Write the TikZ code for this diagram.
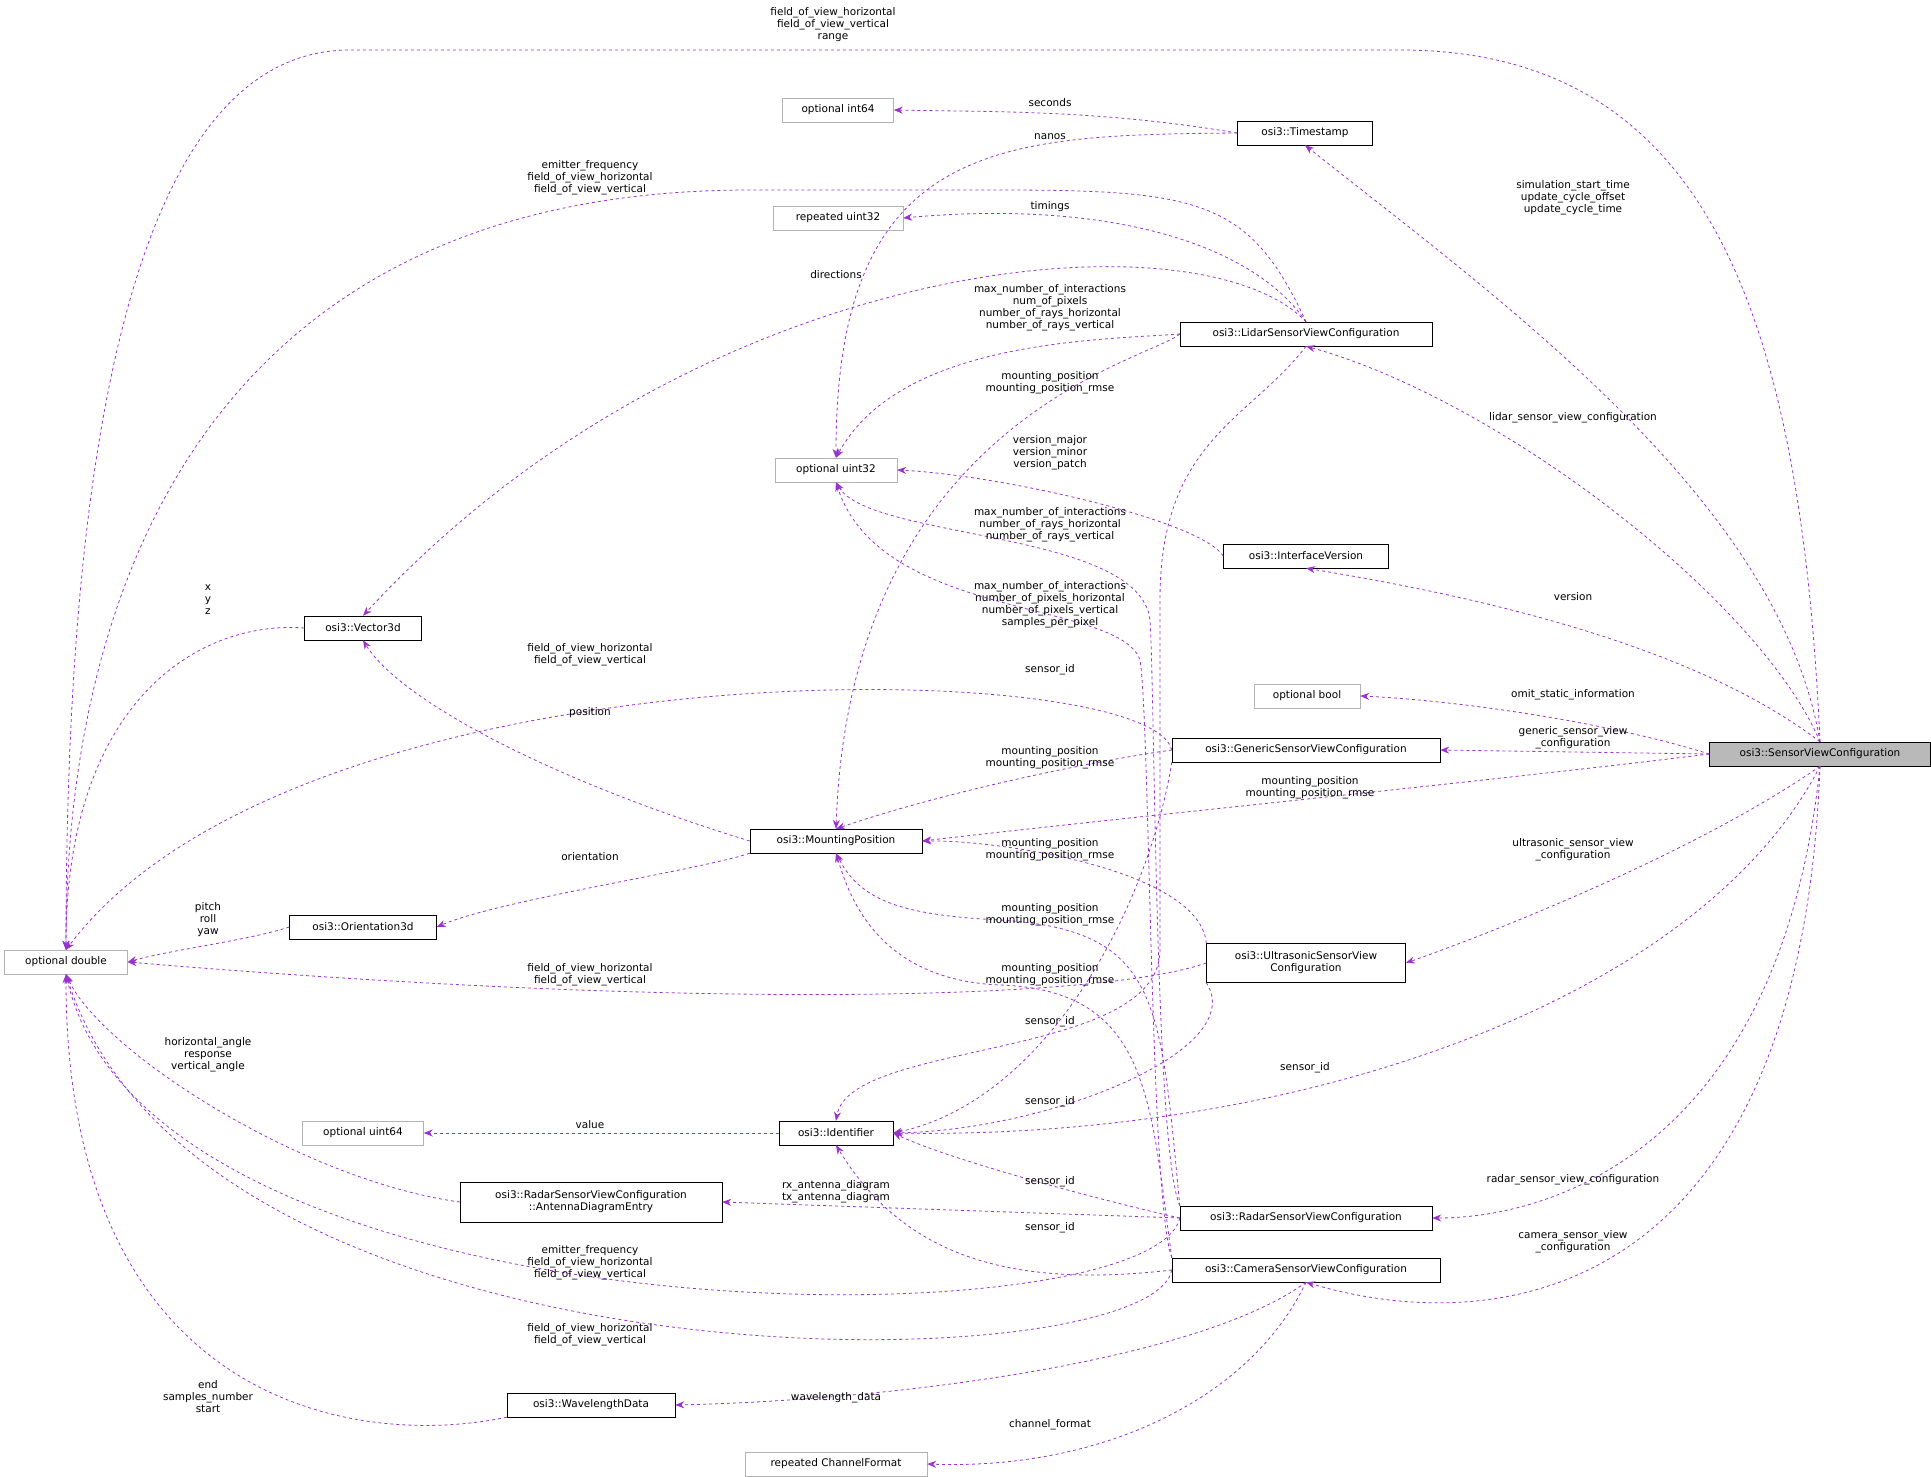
\documentclass[tikz,border=0pt]{standalone}
\usepackage{fontspec}
\setmainfont{DejaVu Sans}
\usetikzlibrary{arrows.meta}
\definecolor{dorchid}{HTML}{9A32CD}
\tikzset{
  cls/.style={draw=black,fill=white,inner sep=2pt,minimum height=24pt,align=center,font=\fontsize{10.5}{12}\selectfont},
  ext/.style={cls,draw=gray!60},
  dep/.style={draw=dorchid,dashed,thick,-{Stealth[length=9pt,width=7pt]}},
  lbl/.style={align=center,font=\fontsize{10.5}{12}\selectfont,inner sep=0pt}
}
\begin{document}
\begin{tikzpicture}[x=1pt,y=-1pt]
    \useasboundingbox (0,0) rectangle (1931,1476);
    % classes
    \node[ext,minimum width=123] (dbl) at (66,962) {optional double};
    \node[ext,minimum width=111] (i64) at (838,110) {optional int64};
    \node[cls,minimum width=135] (ts) at (1305,133) {osi3::Timestamp};
    \node[ext,minimum width=130] (r32) at (838,218) {repeated uint32};
    \node[cls,minimum width=252] (lidar) at (1306,334) {osi3::LidarSensorViewConfiguration};
    \node[ext,minimum width=122] (u32) at (836,470) {optional uint32};
    \node[cls,minimum width=165] (iv) at (1306,556) {osi3::InterfaceVersion};
    \node[cls,minimum width=117] (vec) at (363,628) {osi3::Vector3d};
    \node[ext,minimum width=106] (bool) at (1307,696) {optional bool};
    \node[cls,minimum width=268] (gen) at (1306,750) {osi3::GenericSensorViewConfiguration};
    \node[cls,minimum width=221,fill=gray!55] (svc) at (1820,754) {osi3::SensorViewConfiguration};
    \node[cls,minimum width=172] (mp) at (836,841) {osi3::MountingPosition};
    \node[cls,minimum width=147] (ori) at (363,927) {osi3::Orientation3d};
    \node[cls,minimum width=199,minimum height=39] (us) at (1306,963) {osi3::UltrasonicSensorView\\Configuration};
    \node[ext,minimum width=121] (u64) at (363,1133) {optional uint64};
    \node[cls,minimum width=114] (id) at (836,1133) {osi3::Identifier};
    \node[cls,minimum width=262,minimum height=40] (ade) at (591,1202) {osi3::RadarSensorViewConfiguration\\::AntennaDiagramEntry};
    \node[cls,minimum width=252] (radar) at (1306,1218) {osi3::RadarSensorViewConfiguration};
    \node[cls,minimum width=268] (cam) at (1306,1270) {osi3::CameraSensorViewConfiguration};
    \node[cls,minimum width=168] (wl) at (591,1405) {osi3::WavelengthData};
    \node[ext,minimum width=182] (rcf) at (836,1464) {repeated ChannelFormat};
    % SensorViewConfiguration
    \draw[dep] (svc.north) .. controls (1800,300) and (1700,50) .. (1400,50) -- (350,50) .. controls (120,50) and (66,500) .. (dbl.north);
    \draw[dep] (svc.north) .. controls (1780,500) and (1500,300) .. (ts.south);
    \draw[dep] (svc.north) .. controls (1760,600) and (1500,400) .. (lidar.south);
    \draw[dep] (svc.north) .. controls (1700,650) and (1500,600) .. (iv.south);
    \draw[dep] (svc.west) .. controls (1600,720) and (1450,700) .. (bool.east);
    \draw[dep] (svc.west) -- (gen.east);
    \draw[dep] (svc.west) .. controls (1500,780) and (1100,820) .. (mp.east);
    \draw[dep] (svc.south) .. controls (1700,850) and (1500,930) .. (us.east);
    \draw[dep] (svc.south) .. controls (1700,1000) and (1300,1140) .. (id.east);
    \draw[dep] (svc.south) .. controls (1780,1150) and (1550,1218) .. (radar.east);
    \draw[dep] (svc.south) .. controls (1800,1300) and (1500,1340) .. (cam.south);
    \node[lbl] at (833,25) {field\_of\_view\_horizontal\\field\_of\_view\_vertical\\range};
    \node[lbl] at (1573,198) {simulation\_start\_time\\update\_cycle\_offset\\update\_cycle\_time};
    \node[lbl] at (1573,418) {lidar\_sensor\_view\_configuration};
    \node[lbl] at (1573,597) {version};
    \node[lbl] at (1573,695) {omit\_static\_information};
    \node[lbl] at (1573,738) {generic\_sensor\_view\\\_configuration};
    \node[lbl] at (1310,788) {mounting\_position\\mounting\_position\_rmse};
    \node[lbl] at (1573,850) {ultrasonic\_sensor\_view\\\_configuration};
    \node[lbl] at (1305,1068) {sensor\_id};
    \node[lbl] at (1573,1180) {radar\_sensor\_view\_configuration};
    \node[lbl] at (1573,1242) {camera\_sensor\_view\\\_configuration};
    % Timestamp
    \draw[dep] (ts.west) .. controls (1100,110) and (1000,112) .. (i64.east);
    \draw[dep] (ts.west) .. controls (1000,135) and (836,140) .. (u32.north);
    \node[lbl] at (1050,103) {seconds};
    \node[lbl] at (1050,137) {nanos};
    % Lidar
    \draw[dep] (lidar.north) .. controls (1250,200) and (1200,190) .. (1000,190) -- (750,190) .. controls (200,190) and (66,600) .. (dbl.north);
    \draw[dep] (lidar.north) .. controls (1250,240) and (1100,200) .. (r32.east);
    \draw[dep] (lidar.north) .. controls (1200,210) and (700,250) .. (vec.north);
    \draw[dep] (lidar.west) .. controls (1100,340) and (900,340) .. (u32.north);
    \draw[dep] (lidar.west) .. controls (1150,360) and (850,420) .. (mp.north);
    \draw[dep] (lidar.south) .. controls (1250,420) and (1160,440) .. (1160,600) -- (1160,950) .. controls (1160,1060) and (850,1040) .. (id.north);
    \node[lbl] at (590,178) {emitter\_frequency\\field\_of\_view\_horizontal\\field\_of\_view\_vertical};
    \node[lbl] at (1050,207) {timings};
    \node[lbl] at (836,275) {directions};
    \node[lbl] at (1050,308) {max\_number\_of\_interactions\\num\_of\_pixels\\number\_of\_rays\_horizontal\\number\_of\_rays\_vertical};
    \node[lbl] at (1050,383) {mounting\_position\\mounting\_position\_rmse};
    \node[lbl] at (1050,670) {sensor\_id};
    % InterfaceVersion
    \draw[dep] (iv.west) .. controls (1200,520) and (1000,475) .. (u32.east);
    \node[lbl] at (1050,453) {version\_major\\version\_minor\\version\_patch};
    % Generic
    \draw[dep] (gen.west) .. controls (1150,655) and (300,640) .. (dbl.north);
    \draw[dep] (gen.west) .. controls (1100,760) and (950,790) .. (mp.north);
    \draw[dep] (gen.south west) .. controls (1150,900) and (1050,1100) .. (id.east);
    \node[lbl] at (590,655) {field\_of\_view\_horizontal\\field\_of\_view\_vertical};
    \node[lbl] at (1050,758) {mounting\_position\\mounting\_position\_rmse};
    \node[lbl] at (1050,1022) {sensor\_id};
    % MountingPosition, Vector3d, Orientation3d
    \draw[dep] (vec.west) .. controls (200,620) and (66,700) .. (dbl.north);
    \draw[dep] (mp.west) .. controls (550,780) and (400,700) .. (vec.south);
    \draw[dep] (mp.south west) .. controls (700,870) and (500,900) .. (ori.east);
    \draw[dep] (ori.west) .. controls (250,940) and (170,950) .. (dbl.east);
    \node[lbl] at (208,600) {x\\y\\z};
    \node[lbl] at (590,713) {position};
    \node[lbl] at (590,857) {orientation};
    \node[lbl] at (208,920) {pitch\\roll\\yaw};
    % Ultrasonic
    \draw[dep] (us.north west) .. controls (1200,870) and (1000,840) .. (mp.east);
    \draw[dep] (us.west) .. controls (1100,1000) and (700,1010) .. (dbl.east);
    \draw[dep] (us.south west) .. controls (1250,1050) and (1050,1130) .. (id.east);
    \node[lbl] at (1050,850) {mounting\_position\\mounting\_position\_rmse};
    \node[lbl] at (590,975) {field\_of\_view\_horizontal\\field\_of\_view\_vertical};
    \node[lbl] at (1050,1102) {sensor\_id};
    % Identifier, AntennaDiagramEntry
    \draw[dep] (id.west) -- (u64.east);
    \draw[dep] (ade.west) .. controls (300,1180) and (100,1050) .. (dbl.south);
    \node[lbl] at (590,1125) {value};
    \node[lbl] at (208,1055) {horizontal\_angle\\response\\vertical\_angle};
    % Radar
    \draw[dep] (radar.north west) .. controls (1155,1150) and (1155,700) .. (1150,620) .. controls (1140,530) and (870,540) .. (u32.south);
    \draw[dep] (radar.north west) .. controls (1160,1000) and (1160,930) .. (1000,920) .. controls (900,915) and (860,900) .. (mp.south);
    \draw[dep] (radar.west) .. controls (1100,1200) and (950,1160) .. (id.east);
    \draw[dep] (radar.west) -- (ade.east);
    \draw[dep] (radar.west) .. controls (1150,1345) and (150,1345) .. (dbl.south);
    \node[lbl] at (1050,525) {max\_number\_of\_interactions\\number\_of\_rays\_horizontal\\number\_of\_rays\_vertical};
    \node[lbl] at (1050,915) {mounting\_position\\mounting\_position\_rmse};
    \node[lbl] at (1050,1182) {sensor\_id};
    \node[lbl] at (836,1192) {rx\_antenna\_diagram\\tx\_antenna\_diagram};
    \node[lbl] at (590,1263) {emitter\_frequency\\field\_of\_view\_horizontal\\field\_of\_view\_vertical};
    % Camera
    \draw[dep] (cam.north west) .. controls (1150,1200) and (1150,720) .. (1140,660) .. controls (1120,600) and (880,620) .. (u32.south);
    \draw[dep] (cam.north west) .. controls (1150,1100) and (1150,990) .. (1000,985) .. controls (880,980) and (850,900) .. (mp.south);
    \draw[dep] (cam.west) .. controls (1000,1290) and (900,1250) .. (id.south);
    \draw[dep] (cam.west) .. controls (1150,1385) and (200,1400) .. (dbl.south);
    \draw[dep] (cam.south) .. controls (1200,1360) and (900,1400) .. (wl.east);
    \draw[dep] (cam.south) .. controls (1250,1400) and (1100,1470) .. (rcf.east);
    \node[lbl] at (1050,605) {max\_number\_of\_interactions\\number\_of\_pixels\_horizontal\\number\_of\_pixels\_vertical\\samples\_per\_pixel};
    \node[lbl] at (1050,975) {mounting\_position\\mounting\_position\_rmse};
    \node[lbl] at (1050,1228) {sensor\_id};
    \node[lbl] at (590,1335) {field\_of\_view\_horizontal\\field\_of\_view\_vertical};
    \node[lbl] at (836,1398) {wavelength\_data};
    \node[lbl] at (1050,1425) {channel\_format};
    % WavelengthData
    \draw[dep] (wl.south west) .. controls (350,1450) and (66,1400) .. (dbl.south);
    \node[lbl] at (208,1397) {end\\samples\_number\\start};
\end{tikzpicture}
\end{document}
